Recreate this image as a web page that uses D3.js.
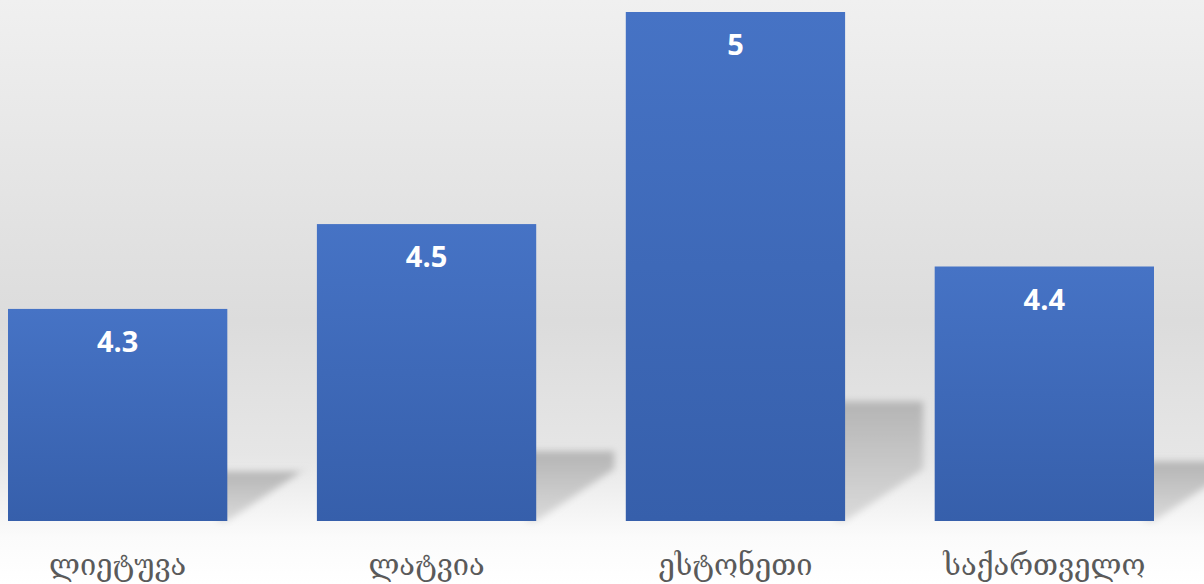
<!DOCTYPE html>
<html>
<head>
<meta charset="utf-8">
<script src="https://cdn.jsdelivr.net/npm/d3@7"></script>
<style>
  html, body { margin: 0; padding: 0; background: #fff; }
  svg { display: block; }
</style>
</head>
<body>
<svg id="chart" width="1204" height="584"></svg>
<script>
const categories = ["ლიეტუვა", "ლატვია", "ესტონეთი", "საქართველო"];
const values = [4.3, 4.5, 5, 4.4];
const yDomain = [3.8, 5];

const W = 1204, H = 584;
const svg = d3.select("#chart");
const defs = svg.append("defs");

const bg = defs.append("linearGradient").attr("id", "bg").attr("x1", 0).attr("y1", 0).attr("x2", 0).attr("y2", 1);
bg.append("stop").attr("offset", "0%").attr("stop-color", "#f0f0f0");
bg.append("stop").attr("offset", "55%").attr("stop-color", "#dcdcdc");
bg.append("stop").attr("offset", "78%").attr("stop-color", "#e6e6e6");
bg.append("stop").attr("offset", "92%").attr("stop-color", "#fbfbfb");
bg.append("stop").attr("offset", "100%").attr("stop-color", "#ffffff");

const barG = defs.append("linearGradient").attr("id", "barg").attr("x1", 0).attr("y1", 0).attr("x2", 0).attr("y2", 1);
barG.append("stop").attr("offset", "0%").attr("stop-color", "#4673c5");
barG.append("stop").attr("offset", "100%").attr("stop-color", "#365fab");

const shG = defs.append("linearGradient").attr("id", "shg").attr("x1", 0).attr("y1", 0).attr("x2", 0).attr("y2", 1);
shG.append("stop").attr("offset", "0%").attr("stop-color", "#b4b4b4");
shG.append("stop").attr("offset", "100%").attr("stop-color", "#dadada");

const blur = defs.append("filter").attr("id", "blur").attr("x", "-20%").attr("y", "-20%").attr("width", "140%").attr("height", "140%");
blur.append("feGaussianBlur").attr("stdDeviation", 3.5);

svg.append("rect").attr("width", W).attr("height", H).attr("fill", "url(#bg)");

const x = d3.scaleBand().domain(categories).range([8, 1154]).paddingInner(0.29).paddingOuter(0);
const y = d3.scaleLinear().domain(yDomain).range([521, 12]);

const data = categories.map((c, i) => ({ c, v: values[i] }));
const base = y(yDomain[0]);

// shadows
svg.append("g").selectAll("path").data(data).join("path")
  .attr("filter", "url(#blur)")
  .attr("fill", "url(#shg)")
  .attr("d", d => {
    const x0 = x(d.c), x1 = x0 + x.bandwidth();
    const h = base - y(d.v);
    const top = base - 0.235 * h;
    return `M${x1 - 10},${top} L${x1 + 78},${top} L${x1 + 78},${base - 52} L${x1},${base} L${x1 - 10},${base} Z`;
  });

// bars
svg.append("g").selectAll("rect").data(data).join("rect")
  .attr("x", d => x(d.c))
  .attr("y", d => y(d.v))
  .attr("width", x.bandwidth())
  .attr("height", d => base - y(d.v))
  .attr("fill", "url(#barg)");

// value labels
svg.append("g").selectAll("text").data(data).join("text")
  .attr("x", d => x(d.c) + x.bandwidth() / 2)
  .attr("y", d => y(d.v) + 43)
  .attr("text-anchor", "middle")
  .attr("font-family", "'Open Sans', Lato, sans-serif")
  .attr("font-weight", "bold")
  .attr("font-size", 29)
  .attr("fill", "#ffffff")
  .text(d => d3.format("")(d.v));

// category axis labels
const axis = d3.axisBottom(x).tickSize(0).tickPadding(0);
const ag = svg.append("g").attr("transform", `translate(0,${base})`).call(axis);
ag.select(".domain").remove();
ag.selectAll("text")
  .attr("y", 54)
  .attr("dy", null)
  .attr("font-family", "'DejaVu Serif', 'DejaVu Sans', serif")
  .attr("font-size", 29)
  .attr("fill", "#5a5a5a");
</script>
</body>
</html>
